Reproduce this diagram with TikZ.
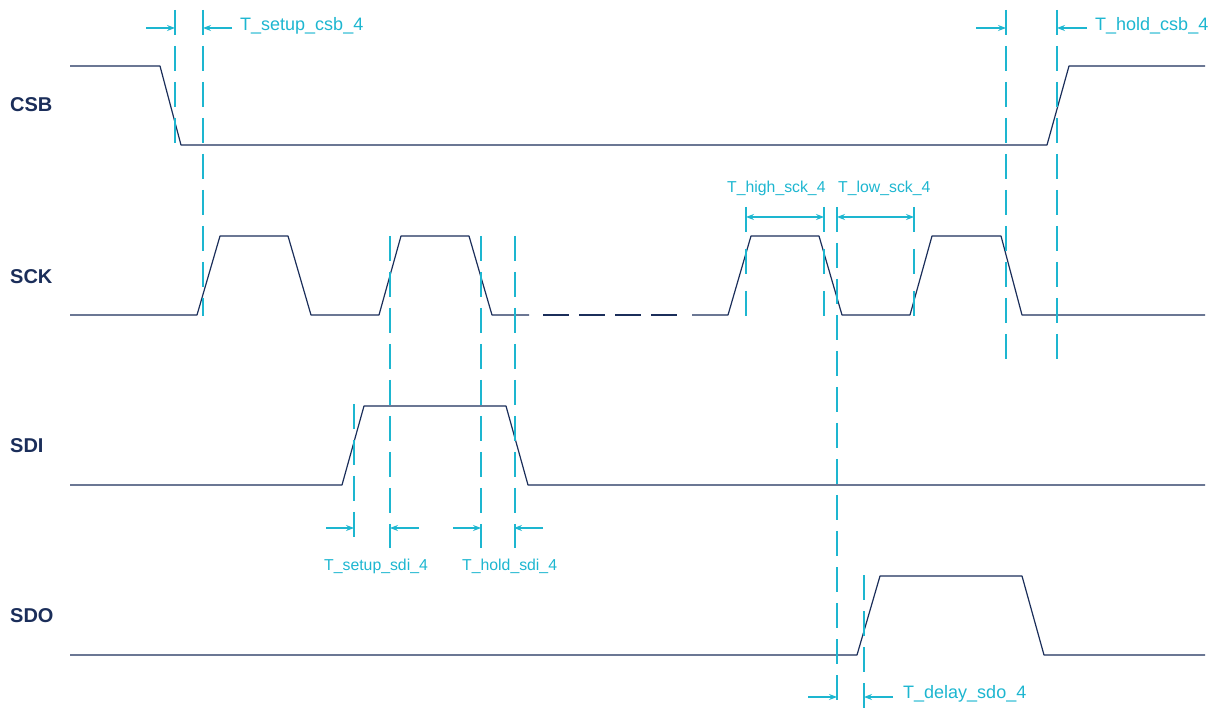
\documentclass[tikz,border=0pt]{standalone}
\usepackage{fontspec}
\setmainfont{Liberation Sans}
\usetikzlibrary{arrows,arrows.meta,positioning,calc}
\definecolor{sig}{HTML}{1B2E5A}
\definecolor{tcyan}{HTML}{1DB6D0}

\tikzset{
  wave/.style={sig,line width=1.2pt,line join=round},
  tline/.style={tcyan,line width=1.5pt,dash pattern=on 25pt off 11pt},
  tshort/.style={tline,dash pattern=on 25pt off 17pt},
  tarrow/.style={tcyan,line width=1.1pt,-{Stealth[length=8pt,width=6pt]}},
  tboth/.style={tarrow,{Stealth[length=8pt,width=6pt]}-{Stealth[length=8pt,width=6pt]}},
  tlabel/.style={text=tcyan,font=\fontsize{18}{20}\selectfont,inner sep=0pt,anchor=base west},
  tsmall/.style={tlabel,font=\fontsize{15.8}{18}\selectfont},
  signame/.style={text=sig,font=\fontsize{20}{22}\selectfont\bfseries,inner sep=0pt,anchor=base west}
}

\begin{document}
\begin{tikzpicture}[x=1pt,y=-1pt]
\useasboundingbox (0,0) rectangle (1211,708);

% signal names
\node[signame] (csb) at (10,112) {CSB};
\node[signame] (sck) at (10,284) {SCK};
\node[signame] (sdi) at (10,453) {SDI};
\node[signame] (sdo) at (10,622) {SDO};

% waveforms
\draw[wave] (70,66) -- (160,66) -- (181,145) -- (1047,145) -- (1069,66) -- (1205,66);
\draw[wave] (70,315) -- (197,315) -- (220,236) -- (288,236) -- (311,315) -- (379,315)
  -- (401,236) -- (469,236) -- (492,315) -- (529,315);
\draw[wave,dash pattern=on 26pt off 10pt] (543,315) -- (677,315);
\draw[wave] (692,315) -- (728,315) -- (751,236) -- (819,236) -- (842,315) -- (910,315)
  -- (932,236) -- (1001,236) -- (1022,315) -- (1205,315);
\draw[wave] (70,485) -- (342,485) -- (364,406) -- (506,406) -- (528,485) -- (1205,485);
\draw[wave] (70,655) -- (857,655) -- (880,576) -- (1022,576) -- (1044,655) -- (1205,655);

% timing marks
\foreach \x/\ya/\yb in {175/10/145, 203/10/316, 1006/10/360, 1057/10/360,
                        354/404/548, 390/236/548, 481/236/548, 515/236/548,
                        837/207/708, 864/575/708}
  \draw[tline] (\x,\ya) -- (\x,\yb);
\foreach \x in {746,824,914}
  \draw[tshort] (\x,207) -- (\x,316);

% arrows
\foreach \xa/\xb/\y in {146/175/28, 232/203/28, 976/1006/28, 1087/1057/28,
                        326/354/528, 419/390/528, 453/481/528, 543/514/528,
                        808/837/697, 893/864/697}
  \draw[tarrow] (\xa,\y) -- (\xb,\y);
\draw[tboth] (746,217) -- (824,217);
\draw[tboth] (837,217) -- (914,217);

% labels
\node[tlabel] (setupcsb) at (240,31) {T\_setup\_csb\_4};
\node[tlabel] (holdcsb) at (1095,31) {T\_hold\_csb\_4};
\node[tsmall] (highsck) at (727,193) {T\_high\_sck\_4};
\node[tsmall] (lowsck) at (838,193) {T\_low\_sck\_4};
\node[tsmall] (setupsdi) at (324,570) {T\_setup\_sdi\_4};
\node[tsmall] (holdsdi) at (462,570) {T\_hold\_sdi\_4};
\node[tlabel] (delaysdo) at (903,698) {T\_delay\_sdo\_4};
\end{tikzpicture}
\end{document}
